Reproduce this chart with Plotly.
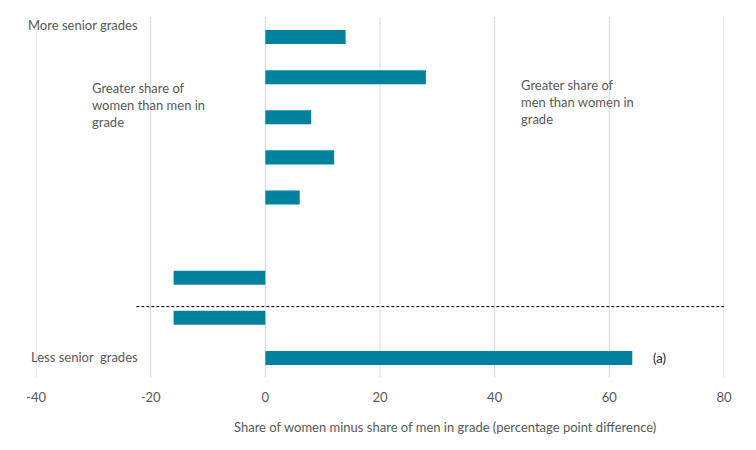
import plotly.graph_objects as go

rows = ["g1", "g2", "g3", "g4", "g5", "gap", "g6", "g7", "g8"]
values = [14, 28, 8, 12, 6, None, -16, -16, 64]
x_ticks = [-40, -20, 0, 20, 40, 60, 80]
x_tick_text = ["-40", "-20", "0", "20", "40", "60", "80"]

TEXT = "#595959"
FONT = "Lato, Carlito, 'Liberation Sans', sans-serif"

# plot area in reference page pixels
PL, PR, PT, PB = 36, 724, 17, 378

fig = go.Figure()
fig.add_trace(go.Bar(
    x=values, y=rows, orientation="h",
    marker=dict(color="#00819E", line=dict(width=0)),
    width=0.35, hoverinfo="skip",
))

fig.update_layout(
    width=756, height=450,
    margin=dict(l=PL - 8, r=756 - PR + 8, t=PT - 8, b=450 - PB + 8, autoexpand=False),
    paper_bgcolor="white", plot_bgcolor="white",
    showlegend=False,
    font=dict(family=FONT, size=13, color=TEXT),
    xaxis=dict(range=[-40, 80], tickvals=x_ticks, ticktext=x_tick_text, showgrid=False,
               zeroline=False, showline=False, ticks="outside", ticklen=7,
               tickcolor="rgba(0,0,0,0)", tickfont=dict(size=13, color=TEXT),
               fixedrange=True),
    yaxis=dict(type="category", categoryarray=rows,
               showticklabels=False, showgrid=False, zeroline=False,
               showline=False, ticks="", range=[8.5, -0.5]),
)

# vertical gridlines at tick values
for t in x_ticks:
    fig.add_shape(type="line", xref="x", yref="paper", x0=t, x1=t, y0=0, y1=1,
                  line=dict(color="#d9d9d9", width=1), layer="below")

# dashed separator line
fig.add_shape(type="line", xref="x", yref="y", x0=-22.5, x1=80, y0=6.72, y1=6.72,
              line=dict(color="black", width=1, dash="3px,2px"))


def px(x):
    return (x - PL) / (PR - PL)


def py(y):
    return (PB - y) / (PB - PT)


ann = [
    dict(x=26, y=25, text="More senior grades", xanchor="left"),
    dict(x=29, y=357, text="Less senior  grades", xanchor="left"),
    dict(x=90, y=105, text="Greater share of<br>women than men in<br>grade", xanchor="left", align="left"),
    dict(x=519, y=102, text="Greater share of<br>men than women in<br>grade", xanchor="left", align="left"),
    dict(x=651, y=358, text="(a)", xanchor="left", color="#222222"),
    dict(x=445, y=427, text="Share of women minus share of men in grade (percentage point difference)", xanchor="center"),
]
for a in ann:
    fig.add_annotation(x=px(a["x"]), y=py(a["y"]), xref="paper", yref="paper",
                       text=a["text"], showarrow=False, xanchor=a["xanchor"], yanchor="middle",
                       align=a.get("align", "left"),
                       font=dict(family=FONT, size=13, color=a.get("color", TEXT)))

fig.write_html("out.html")
